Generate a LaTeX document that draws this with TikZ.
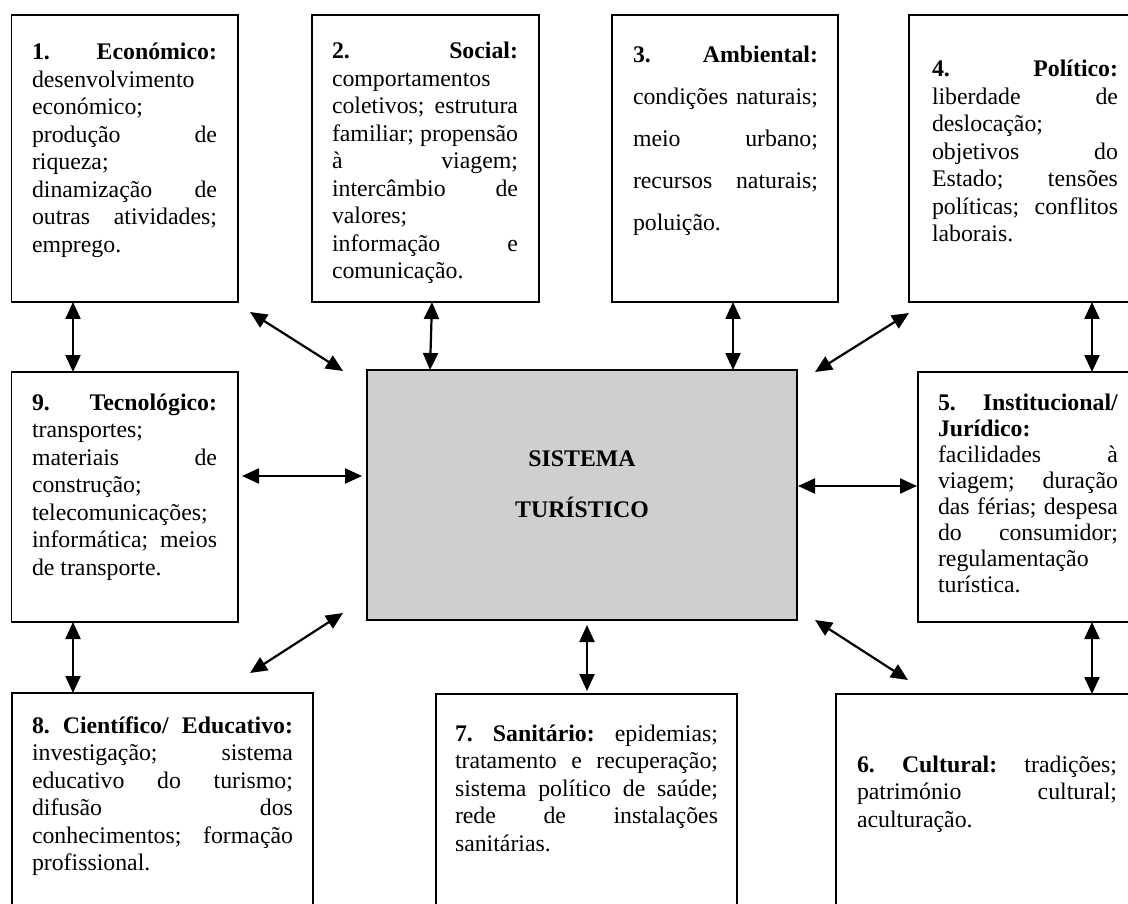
\documentclass[tikz,border=0pt]{standalone}
\usepackage{fontspec}
\setmainfont{Liberation Serif}
\usetikzlibrary{arrows.meta,calc}
\definecolor{cfill}{RGB}{208,206,208}
\newcommand{\boxtext}[3]{\parbox[t]{#1}{\fontsize{23.8}{#2}\selectfont #3}}
\tikzset{
  box/.style={draw, line width=1.3pt, outer sep=0pt, inner sep=0pt, anchor=north west},
  txt/.style={anchor=base west, inner sep=0pt, outer sep=0pt},
  arr/.style={{Triangle[width=15pt,length=17pt]}-{Triangle[width=15pt,length=17pt]}, line width=2.2pt}
}
\begin{document}
\begin{tikzpicture}[x=1pt,y=-1pt]
\useasboundingbox (0,0) rectangle (1128,904);
\clip (0,0) rectangle (1128,904);
% boxes
\node[box, minimum width=226.5pt, minimum height=287pt] (b1) at (11.5,15) {};
\node[box, minimum width=227pt, minimum height=287pt] (b2) at (312,15) {};
\node[box, minimum width=226pt, minimum height=287pt] (b3) at (612,15) {};
\node[box, minimum width=240pt, minimum height=287pt] (b4) at (909,15) {};
\node[box, minimum width=226.5pt, minimum height=250pt] (b9) at (11.5,372) {};
\node[box, minimum width=430pt, minimum height=250pt, fill=cfill] (c) at (367,370) {};
\node[box, minimum width=230pt, minimum height=250pt] (b5) at (918,372) {};
\node[box, minimum width=301pt, minimum height=240pt] (b8) at (12,693) {};
\node[box, minimum width=301pt, minimum height=240pt] (b7) at (436,694) {};
\node[box, minimum width=310pt, minimum height=240pt] (b6) at (836,694) {};
% texts
\node[txt] (t1) at (32,60) {\boxtext{185pt}{27.5}{\textbf{1.}\hfill\textbf{Económico:}\\ desenvolvimento\\ económico;\\ produção\hfill de\\ riqueza;\\ dinamização\hfill de\\ outras\hfill atividades;\\ emprego.}};
\node[txt] (t2) at (332,59) {\boxtext{186pt}{27.5}{\textbf{2.}\hfill\textbf{Social:}\\ comportamentos\\ coletivos;\hfill estrutura\\ familiar;\hfill propensão\\ à\hfill viagem;\\ intercâmbio\hfill de\\ valores;\\ informação\hfill e\\ comunicação.}};
\node[txt] (t3) at (633,63) {\boxtext{185pt}{42}{\textbf{3.}\hfill\textbf{Ambiental:}\\ condições\hfill naturais;\\ meio\hfill urbano;\\ recursos\hfill naturais;\\ poluição.}};
\node[txt] (t4) at (932,77) {\boxtext{186pt}{27.5}{\textbf{4.}\hfill\textbf{Político:}\\ liberdade\hfill de\\ deslocação;\\ objetivos\hfill do\\ Estado;\hfill tensões\\ políticas;\hfill conflitos\\ laborais.}};
\node[txt] (t9) at (32,410) {\boxtext{185pt}{27.5}{\textbf{9.}\hfill\textbf{Tecnológico:}\\ transportes;\\ materiais\hfill de\\ construção;\\ telecomunicações;\\ informática;\hfill meios\\ de transporte.}};
\node[txt] (t5) at (938,410) {\boxtext{180pt}{26}{\textbf{5.}\hfill\textbf{Institucional/}\\ \textbf{Jurídico:}\\ facilidades\hfill à\\ viagem;\hfill duração\\ das\hfill férias;\hfill despesa\\ do\hfill consumidor;\\ regulamentação\\ turística.}};
\node[txt] (t8) at (32,733) {\boxtext{261pt}{27.5}{\textbf{8.}\hfill\textbf{Científico/}\hfill\textbf{Educativo:}\\ investigação;\hfill sistema\\ educativo\hfill do\hfill turismo;\\ difusão\hfill dos\\ conhecimentos;\hfill formação\\ profissional.}};
\node[txt] (t7) at (455,741) {\boxtext{263pt}{27.5}{\textbf{7.}\hfill\textbf{Sanitário:}\hfill epidemias;\\ tratamento\hfill e\hfill recuperação;\\ sistema\hfill político\hfill de\hfill saúde;\\ rede\hfill de\hfill instalações\\ sanitárias.}};
\node[txt] (t6) at (857,772) {\boxtext{260pt}{27.5}{\textbf{6.}\hfill\textbf{Cultural:}\hfill tradições;\\ património\hfill cultural;\\ aculturação.}};
\node[anchor=base, inner sep=0pt] (ct) at (582,466) {\parbox[t]{300pt}{\centering\fontsize{23.8}{51}\selectfont\bfseries SISTEMA\\ TURÍSTICO}};
% connectors
\draw[arr] ($(b1.south west)+(61.5,0)$) -- ($(b9.north west)+(61.5,0)$);
\draw[arr] ($(b9.south west)+(61.5,0)$) -- ($(b8.north west)+(61,0)$);
\draw[arr] ($(b2.south west)+(120,0)$) -- ($(c.north west)+(63,0)$);
\draw[arr] ($(b3.south west)+(121,0)$) -- ($(c.north west)+(366,0)$);
\draw[arr] ($(b4.south west)+(183,0)$) -- ($(b5.north west)+(174,0)$);
\draw[arr] ($(b5.south west)+(174,0)$) -- ($(b6.north west)+(256,0)$);
\draw[arr] ($(c.south west)+(220,5)$) -- ($(b7.north west)+(151,-3)$);
\draw[arr] ($(b9.north east)+(4,104)$) -- ($(c.north west)+(-5,106)$);
\draw[arr] ($(c.north east)+(1,116)$) -- ($(b5.north west)+(-1,114)$);
\draw[arr] ($(b1.south east)+(12,10)$) -- ($(c.north west)+(-24,1)$);
\draw[arr] ($(c.south west)+(-24,-7)$) -- ($(b8.north east)+(-63,-20)$);
\draw[arr] ($(c.north east)+(18,2)$) -- ($(b4.south west)+(0,11)$);
\draw[arr] ($(c.south east)+(18,0)$) -- ($(b6.north west)+(72,-14)$);
\end{tikzpicture}
\end{document}
